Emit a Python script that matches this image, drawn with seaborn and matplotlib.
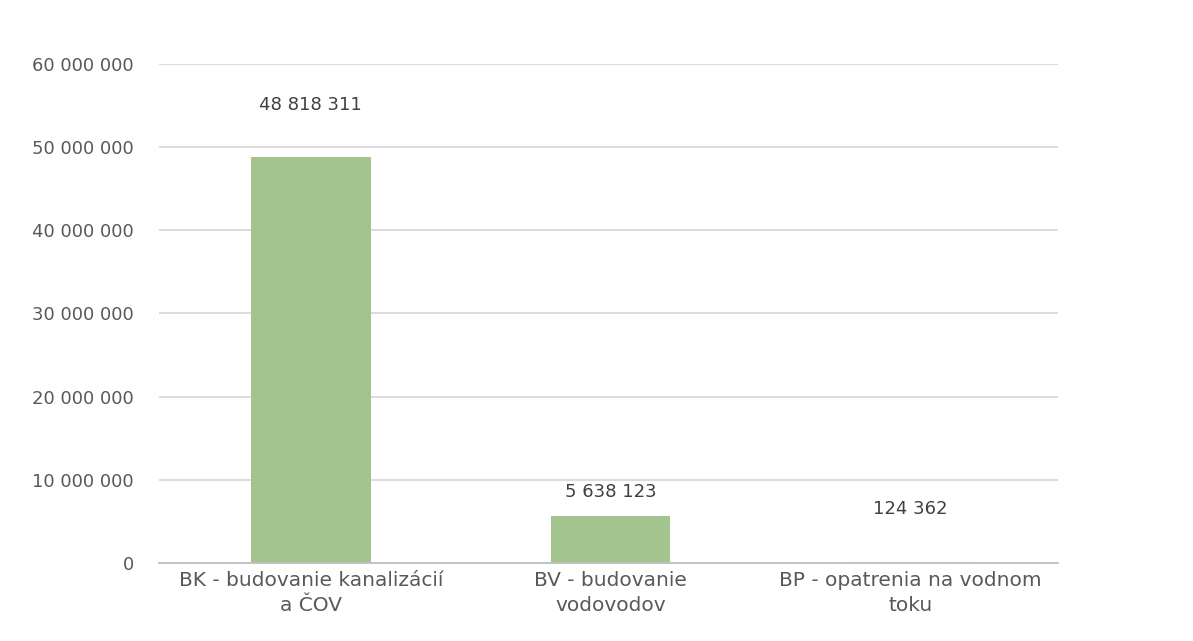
import matplotlib
matplotlib.use("Agg")
import matplotlib.pyplot as plt
import seaborn as sns
import pandas as pd
from matplotlib.ticker import FuncFormatter

categories = ["BK - budovanie kanalizácií\na ČOV", "BV - budovanie\nvodovodov", "BP - opatrenia na vodnom\ntoku"]
values = [48818311, 5638123, 124362]
value_labels = ["48 818 311", "5 638 123", "124 362"]
y_ticks = [0, 10000000, 20000000, 30000000, 40000000, 50000000, 60000000]

sns.set_theme(style="white")
plt.rcParams['font.family'] = ['DejaVu Sans']

df = pd.DataFrame({"cat": categories, "val": values})

fig = plt.figure(figsize=(11.93, 6.41), dpi=100)
ax = fig.add_axes([0.133, 0.122, 0.754, 0.778])
sns.barplot(data=df, x="cat", y="val", color="#a3c48f", width=0.4, ax=ax,
            saturation=1, linewidth=0)

ax.set_ylim(0, 60000000)
ax.set_yticks(y_ticks)
ax.yaxis.set_major_formatter(FuncFormatter(lambda v, p: f"{int(v):,}".replace(",", " ")))
ax.yaxis.grid(True, color="#d9d9d9", linewidth=1.3)
ax.set_axisbelow(True)
for s in ["top", "right", "left"]:
    ax.spines[s].set_visible(False)
ax.spines["bottom"].set_color("#bfbfbf")
ax.spines["bottom"].set_linewidth(1.3)
ax.set_xlabel("")
ax.set_ylabel("")
ax.tick_params(axis="y", labelsize=13, colors="#595959", length=0, pad=18)
ax.tick_params(axis="x", labelsize=14.5, colors="#595959", length=0, pad=6)
for t in ax.get_xticklabels():
    t.set_linespacing(1.4)
ax.set_xlim(-0.507, 2.493)

offsets_px = [52, 24, 53]
for i, (v, lab) in enumerate(zip(values, value_labels)):
    ax.annotate(lab, xy=(i, v), xytext=(0, offsets_px[i]), textcoords="offset pixels",
                ha="center", va="center", fontsize=13, color="#404040")

fig.savefig("out.png", dpi=100, facecolor="white")
